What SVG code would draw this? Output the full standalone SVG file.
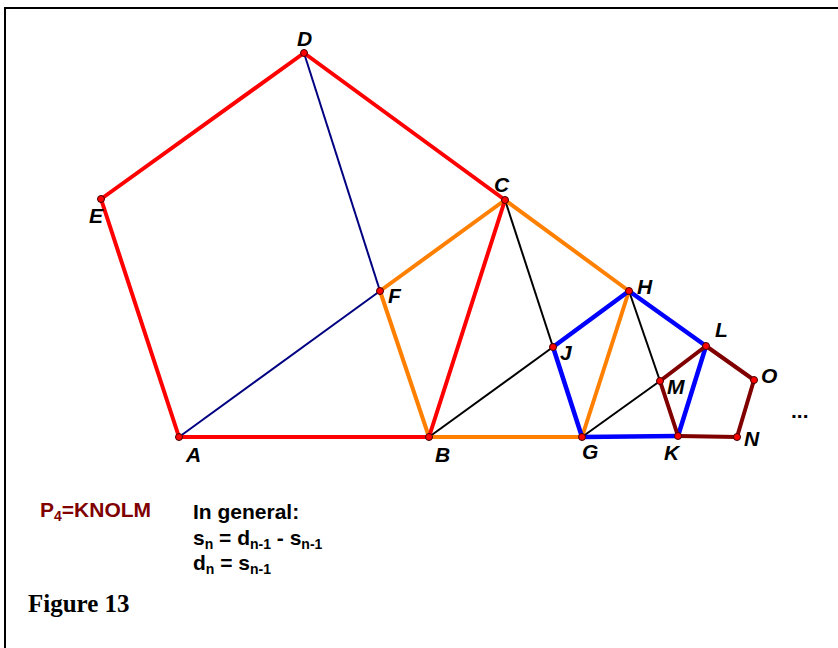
<svg xmlns="http://www.w3.org/2000/svg" width="838" height="648" viewBox="0 0 838 648">
<style>
.red{stroke:#ff0000;stroke-width:4;fill:none;stroke-linecap:round}
.org{stroke:#ff8000;stroke-width:4;fill:none;stroke-linecap:round}
.blu{stroke:#0000ff;stroke-width:4.5;fill:none;stroke-linecap:round}
.brn{stroke:#800000;stroke-width:4;fill:none;stroke-linecap:round}
.nav{stroke:#000080;stroke-width:2;fill:none}
.blk{stroke:#000000;stroke-width:2;fill:none}
.pt{fill:#ff0000;stroke:#400000;stroke-width:1}
.lbl{font-family:"Liberation Sans",Arial,sans-serif;font-weight:bold;font-style:italic;font-size:21px;fill:#000}
.txt{font-family:"Liberation Sans",Arial,sans-serif;font-weight:bold;font-size:21px;fill:#000}
.sub{font-size:14px}
</style>
<rect x="0" y="0" width="838" height="648" fill="#fff"/>
<path d="M5,648 V8 H838" fill="none" stroke="#000" stroke-width="2"/>
<g id="connectors">
<line class="nav" x1="304" y1="53" x2="380" y2="291"/>
<line class="nav" x1="179" y1="437" x2="380" y2="291"/>
<line class="blk" x1="505" y1="200" x2="553" y2="347"/>
<line class="blk" x1="429" y1="437" x2="553" y2="347"/>
<line class="blk" x1="629" y1="291" x2="660" y2="381"/>
<line class="blk" x1="582" y1="437" x2="660" y2="381"/>
<line class="org" x1="380" y1="291" x2="505" y2="200"/>
<line class="org" x1="380" y1="291" x2="429" y2="437"/>
<line class="org" x1="429" y1="437" x2="582" y2="437"/>
<line class="org" x1="505" y1="200" x2="629" y2="291"/>
<line class="org" x1="629" y1="291" x2="582" y2="437"/>
<line class="red" x1="179" y1="437" x2="429" y2="437"/>
<line class="red" x1="429" y1="437" x2="505" y2="200"/>
<line class="red" x1="505" y1="200" x2="304" y2="53"/>
<line class="red" x1="304" y1="53" x2="101" y2="199"/>
<line class="red" x1="101" y1="199" x2="179" y2="437"/>
<line class="blu" x1="582" y1="437" x2="553" y2="347"/>
<line class="blu" x1="553" y1="347" x2="629" y2="291"/>
<line class="blu" x1="629" y1="291" x2="706" y2="346"/>
<line class="blu" x1="706" y1="346" x2="678" y2="436"/>
<line class="blu" x1="678" y1="436" x2="582" y2="437"/>
<line class="brn" x1="678" y1="436" x2="737" y2="437"/>
<line class="brn" x1="737" y1="437" x2="754" y2="380"/>
<line class="brn" x1="754" y1="380" x2="706" y2="346"/>
<line class="brn" x1="706" y1="346" x2="660" y2="381"/>
<line class="brn" x1="660" y1="381" x2="678" y2="436"/>
</g>
<g id="A"><circle class="pt" cx="179" cy="437" r="3.5"/><text class="lbl" x="186" y="462">A</text></g>
<g id="B"><circle class="pt" cx="429" cy="437" r="3.5"/><text class="lbl" x="435" y="462">B</text></g>
<g id="C"><circle class="pt" cx="505" cy="200" r="3.5"/><text class="lbl" x="494" y="192">C</text></g>
<g id="D"><circle class="pt" cx="304" cy="53" r="3.5"/><text class="lbl" x="297" y="46">D</text></g>
<g id="E"><circle class="pt" cx="101" cy="199" r="3.5"/><text class="lbl" x="89" y="223">E</text></g>
<g id="F"><circle class="pt" cx="380" cy="291" r="3.5"/><text class="lbl" x="388" y="303">F</text></g>
<g id="G"><circle class="pt" cx="582" cy="437" r="3.5"/><text class="lbl" x="582" y="459">G</text></g>
<g id="H"><circle class="pt" cx="629" cy="291" r="3.5"/><text class="lbl" x="637" y="294">H</text></g>
<g id="J"><circle class="pt" cx="553" cy="347" r="3.5"/><text class="lbl" x="560" y="360">J</text></g>
<g id="K"><circle class="pt" cx="678" cy="436" r="3.5"/><text class="lbl" x="664" y="460">K</text></g>
<g id="L"><circle class="pt" cx="706" cy="346" r="3.5"/><text class="lbl" x="715" y="337">L</text></g>
<g id="M"><circle class="pt" cx="660" cy="381" r="3.5"/><text class="lbl" x="667" y="394">M</text></g>
<g id="N"><circle class="pt" cx="737" cy="437" r="3.5"/><text class="lbl" x="744" y="446">N</text></g>
<g id="O"><circle class="pt" cx="754" cy="380" r="3.5"/><text class="lbl" x="761" y="383">O</text></g>
<text class="txt" x="791" y="418">...</text>
<text class="txt" x="40" y="517" style="fill:#800000">P<tspan class="sub" dy="4">4</tspan><tspan dy="-4">=KNOLM</tspan></text>
<text class="txt" x="193" y="519">In general:</text>
<text class="txt" x="193" y="545">s<tspan class="sub" dy="4">n</tspan><tspan dy="-4"> = d</tspan><tspan class="sub" dy="4">n-1</tspan><tspan dy="-4"> - s</tspan><tspan class="sub" dy="4">n-1</tspan></text>
<text class="txt" x="193" y="570">d<tspan class="sub" dy="4">n</tspan><tspan dy="-4"> = s</tspan><tspan class="sub" dy="4">n-1</tspan></text>
<text x="28" y="612" font-family="'Liberation Serif','Times New Roman',serif" font-weight="bold" font-size="25" fill="#000">Figure 13</text>
</svg>
